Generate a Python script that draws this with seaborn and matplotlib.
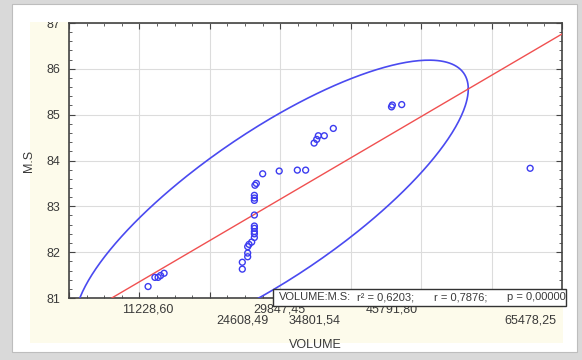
import numpy as np
import pandas as pd
import matplotlib
matplotlib.use('Agg')
import matplotlib.pyplot as plt
import seaborn as sns
from matplotlib.patches import Rectangle

# values
volume = [11229, 12200, 12650, 13000, 13500,
          24608, 24608, 25370, 25370, 25370, 25560, 25940, 26320, 26320, 26320,
          26320, 26320, 26320, 26320, 26320, 26320, 26400, 26600, 27500,
          29847, 32420, 33600,
          34802, 35170, 35400, 36250, 37530,
          45792, 45910, 47240,
          65478]
ms = [81.25, 81.45, 81.45, 81.49, 81.54,
      81.63, 81.78, 81.90, 81.98, 82.12, 82.17, 82.22, 82.32, 82.40, 82.45,
      82.52, 82.57, 82.81, 83.13, 83.18, 83.24, 83.46, 83.50, 83.71,
      83.77, 83.79, 83.79,
      84.38, 84.46, 84.54, 84.54, 84.70,
      85.17, 85.21, 85.22,
      83.83]
xtick_vals = [11228.60, 29847.45, 45791.80, 24608.49, 34801.54, 65478.25]
xtick_text = ['11228,60', '29847,45', '45791,80', '24608,49', '34801,54', '65478,25']
stats_parts = ['VOLUME:M.S:', 'r² = 0,6203;', 'r = 0,7876;', 'p = 0,00000']
stats_x = [279, 357, 434, 507]

df = pd.DataFrame({'VOLUME': volume, 'M.S': ms})

sns.set_style('white')
plt.rcParams['font.family'] = ['Liberation Sans', 'DejaVu Sans']
txt_col = '#3a3a3a'

fig = plt.figure(figsize=(5.82, 3.6), dpi=100, facecolor='#d9d9d9')
W, H = 582, 360

def frect(x0, y0, x1, y1, **kw):
    r = Rectangle((x0 / W, 1 - y1 / H), (x1 - x0) / W, (y1 - y0) / H,
                  transform=fig.transFigure, **kw)
    fig.patches.append(r)
    return r

frect(12, 4, 577, 352, facecolor='white', edgecolor='#bdbdbd', lw=0.8, zorder=-3)
cream = frect(30, 22, 563, 343, facecolor='#fdfbeb', edgecolor='none', zorder=-2)

ax = fig.add_axes([69 / W, 1 - 298 / H, 493 / W, 275 / H])
ax.set_facecolor('white')
ax.set_xlim(0, 70000)
ax.set_ylim(81, 87)
ax.set_xticks(np.arange(0, 70001, 10000))
ax.set_xticks(np.arange(0, 70001, 2500), minor=True)
ax.set_yticks(np.arange(81, 87.1, 1))
ax.set_yticks(np.arange(81, 87.01, 0.2), minor=True)
ax.set_yticklabels([str(v) for v in range(81, 88)])
ax.grid(True, which='major', color='#dcdcdc', lw=0.8)
ax.tick_params(which='both', direction='in', top=True, right=True, bottom=True, left=True,
               color='#444444', labelbottom=False)
ax.tick_params(which='major', length=4, width=0.8, labelsize=9, labelcolor=txt_col, pad=6)
ax.tick_params(which='minor', length=2, width=0.6)
for sp in ax.spines.values():
    sp.set_color('#444444')
    sp.set_linewidth(1.2)
for lab in ax.get_yticklabels():
    lab.set_clip_path(cream)

# prediction ellipse from the data covariance
xy = df[['VOLUME', 'M.S']].to_numpy()
n = len(xy)
mean = xy.mean(axis=0)
cov = np.cov(xy.T)
f95 = 3.276  # F(0.95; 2, n-2)
k = np.sqrt(2 * (n - 1) / (n - 2) * f95)
t = np.linspace(0, 2 * np.pi, 400)
L = np.linalg.cholesky(cov)
ell = mean[:, None] + k * L @ np.vstack([np.cos(t), np.sin(t)])
ax.plot(ell[0], ell[1], color='#4a4af0', lw=1.2, zorder=3)

sns.regplot(data=df, x='VOLUME', y='M.S', ax=ax, scatter=False, ci=None, truncate=False,
            line_kws={'color': '#f05050', 'lw': 1.0, 'zorder': 3})
sns.scatterplot(data=df, x='VOLUME', y='M.S', ax=ax, marker='o', s=18,
                facecolor='none', edgecolor='#3c3cf0', linewidth=1.0, zorder=4)
ax.set_xlim(0, 70000)
ax.set_ylim(81, 87)

ax.set_xlabel('VOLUME', fontsize=9, color=txt_col)
ax.set_ylabel('M.S', fontsize=9, color=txt_col)
ax.xaxis.set_label_coords(0.5, -0.149)
ax.yaxis.set_label_coords(-0.069, 0.5)

# staggered value labels on the x axis
trans = ax.get_xaxis_transform()
for i, (v, s) in enumerate(zip(xtick_vals, xtick_text)):
    yy = -0.04 if i < 3 else -0.0836
    ax.text(v, yy, s, transform=trans, ha='center', va='center', fontsize=9,
            color=txt_col, clip_on=False)

box = frect(273, 289, 566, 306, facecolor='white', edgecolor='#333333', lw=1.0, zorder=5)
for s, px in zip(stats_parts, stats_x):
    st = fig.text(px / W, 1 - 297.5 / H, s, fontsize=8, color=txt_col,
                  ha='left', va='center', zorder=6)
    st.set_clip_path(box)

fig.savefig('out.png', dpi=100, facecolor=fig.get_facecolor())
